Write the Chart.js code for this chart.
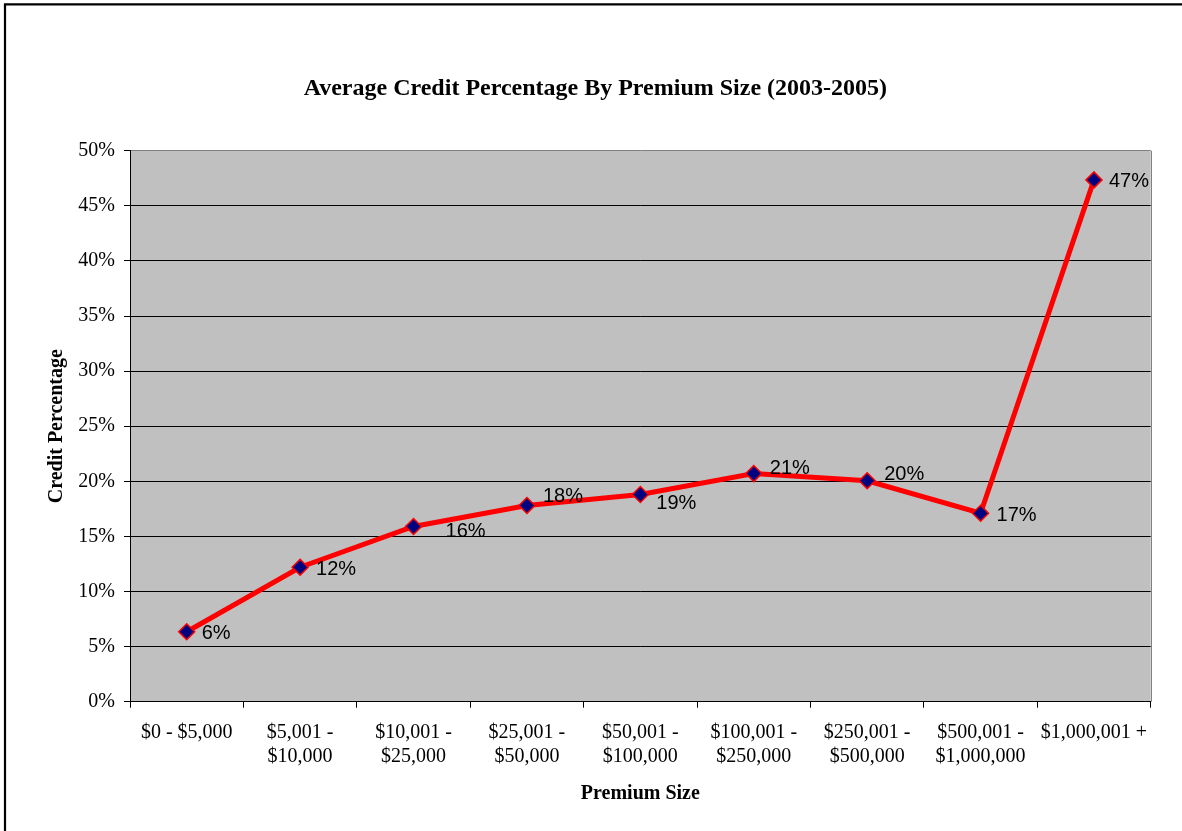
<!DOCTYPE html>
<html>
<head>
<meta charset="utf-8">
<title>Average Credit Percentage By Premium Size (2003-2005)</title>
<script src="https://cdn.jsdelivr.net/npm/chart.js@4"></script>
<style>
  html, body { margin: 0; padding: 0; background: #fff; }
  canvas { display: block; }
</style>
</head>
<body>
<canvas id="myChartCredit" width="1182" height="831"></canvas>
<script>
const premiumSizes = [
  ["$0 - $5,000"],
  ["$5,001 -", "$10,000"],
  ["$10,001 -", "$25,000"],
  ["$25,001 -", "$50,000"],
  ["$50,001 -", "$100,000"],
  ["$100,001 -", "$250,000"],
  ["$250,001 -", "$500,000"],
  ["$500,001 -", "$1,000,000"],
  ["$1,000,001 +"],
];
const creditPct = [6.35, 12.2, 15.9, 17.8, 18.8, 20.7, 20.05, 17.1, 47.35];
const yMin = 0;
const yMax = 50;
const yStep = 5;

const serif = "'Liberation Serif', 'Times New Roman', Times, serif";
const sans = "'Liberation Sans', Arial, Helvetica, sans-serif";

Chart.defaults.font.family = serif;
Chart.defaults.color = "#000";

// label nudges (px) so the % labels sit where the original put them
const labelNudge = [[0, 0], [1, 0], [17, 3], [1, -11], [1, 7], [1, -7], [2, -8], [1, 0], [0, 0]];

const plotBg = {
  id: "plotBg",
  beforeDraw(chart) {
    const { ctx, chartArea: a } = chart;
    ctx.save();
    ctx.fillStyle = "#C0C0C0";
    ctx.fillRect(a.left, a.top, a.right - a.left, a.bottom - a.top);
    ctx.strokeStyle = "#808080";
    ctx.lineWidth = 1;
    ctx.beginPath();
    ctx.moveTo(Math.round(a.right) + 0.5, a.top);
    ctx.lineTo(Math.round(a.right) + 0.5, a.bottom);
    ctx.stroke();
    ctx.restore();
  },
  afterDraw(chart) {
    // outer frame, only left and top edges show in the original
    const ctx = chart.ctx;
    ctx.save();
    ctx.strokeStyle = "#000";
    ctx.lineWidth = 2.2;
    ctx.beginPath();
    ctx.moveTo(5, chart.height + 5);
    ctx.lineTo(5, 4.3);
    ctx.lineTo(chart.width + 5, 4.3);
    ctx.stroke();
    ctx.restore();
  },
};

const pctLabels = {
  id: "pctLabels",
  afterDatasetsDraw(chart) {
    const ctx = chart.ctx;
    const meta = chart.getDatasetMeta(0);
    ctx.save();
    ctx.font = "20px " + sans;
    ctx.fillStyle = "#000";
    ctx.textAlign = "left";
    ctx.textBaseline = "middle";
    meta.data.forEach((pt, i) => {
      const v = chart.data.datasets[0].data[i];
      const n = labelNudge[i] || [0, 0];
      ctx.fillText(Math.round(v) + "%", pt.x + 15 + n[0], pt.y + 2 + n[1]);
    });
    ctx.restore();
  },
};

new Chart(document.getElementById("myChartCredit"), {
  type: "line",
  data: {
    labels: premiumSizes,
    datasets: [
      {
        label: "Credit Percentage",
        data: creditPct,
        borderColor: "#FF0000",
        borderWidth: 5,
        tension: 0,
        pointStyle: "rectRot",
        pointRadius: 8,
        pointBackgroundColor: "#000080",
        pointBorderColor: "#FF0000",
        pointBorderWidth: 1.5,
      },
    ],
  },
  options: {
    responsive: false,
    animation: false,
    layout: {
      padding: { left: 40, right: 31.3, top: 0, bottom: 0 },
    },
    plugins: {
      legend: { display: false },
      tooltip: { enabled: false },
      title: {
        display: true,
        text: "Average Credit Percentage By Premium Size (2003-2005)",
        font: { family: serif, size: 24, weight: "bold" },
        color: "#000",
        padding: { top: 74.6, bottom: 47.3 },
      },
    },
    scales: {
      x: {
        offset: true,
        grid: {
          offset: true,
          drawOnChartArea: false,
          drawTicks: true,
          tickLength: 6,
          color: "#000",
        },
        border: { color: "#000", width: 1 },
        ticks: {
          autoSkip: false,
          maxRotation: 0,
          minRotation: 0,
          padding: 13,
          font: { family: serif, size: 20 },
          color: "#000",
        },
        title: {
          display: true,
          text: "Premium Size",
          font: { family: serif, size: 20, weight: "bold" },
          color: "#000",
          padding: { top: 0, bottom: 25 },
        },
        afterFit(scale) {
          scale.height = 129.3;
        },
      },
      y: {
        min: yMin,
        max: yMax,
        grid: {
          color: (c) => (c.tick && c.tick.value === yMax ? "#808080" : "#000"),
          tickColor: "#000",
          lineWidth: 1,
          drawTicks: true,
          tickLength: 6,
        },
        border: { color: "#000", width: 1 },
        ticks: {
          stepSize: yStep,
          padding: 9,
          font: { family: serif, size: 20 },
          color: "#000",
          callback: (v) => v + "%",
        },
        title: {
          display: true,
          text: "Credit Percentage",
          font: { family: serif, size: 20, weight: "bold" },
          color: "#000",
          padding: { top: 5, bottom: 0 },
        },
        afterFit(scale) {
          scale.width = 90;
        },
      },
    },
  },
  plugins: [plotBg, pctLabels],
});
</script>
</body>
</html>
